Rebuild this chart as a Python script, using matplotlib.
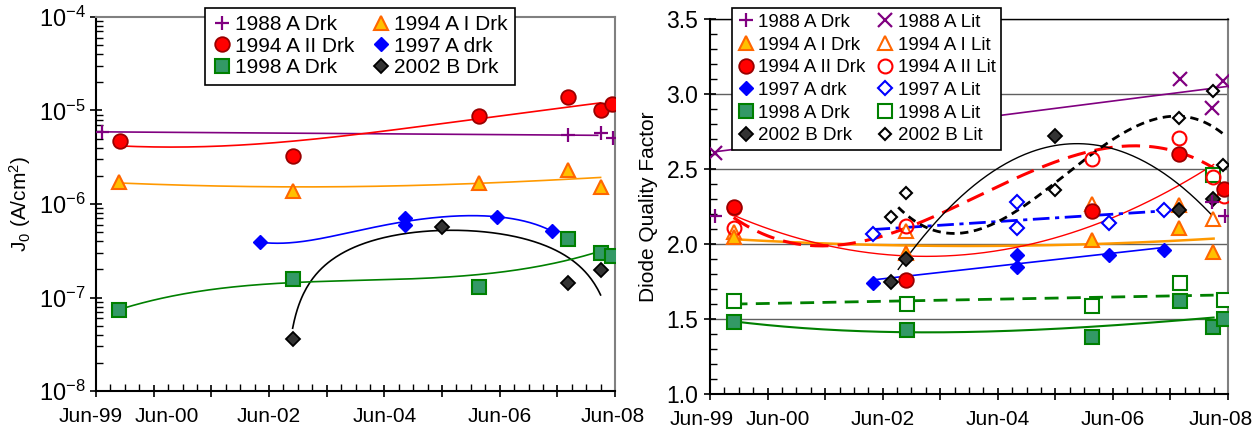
import numpy as np
import matplotlib
matplotlib.use("Agg")
import matplotlib.pyplot as plt
import matplotlib.transforms as mtransforms
from matplotlib.ticker import MultipleLocator, FixedLocator, LogLocator, NullFormatter, FormatStrFormatter

plt.rcParams['font.family'] = ['Liberation Sans', 'DejaVu Sans']
plt.rcParams['mathtext.fontset'] = 'custom'
plt.rcParams['mathtext.rm'] = 'Liberation Sans'
plt.rcParams['mathtext.it'] = 'Liberation Sans:italic'

# x values are years after June 1999
date_ticks = [0, 1, 2, 3, 4, 5, 6, 7, 8, 9]
date_labels = ['Jun-99', 'Jun-00', '', 'Jun-02', '', 'Jun-04', '', 'Jun-06', '', 'Jun-08']

# ---- left panel: J0 (A/cm2) ----
j88_x = [0.10, 8.19, 8.75, 8.96]
j88_y = [5.9e-6, 5.5e-6, 5.7e-6, 5.1e-6]
j94i_x = [0.40, 3.41, 6.65, 8.18, 8.75]
j94i_y = [1.73e-6, 1.39e-6, 1.67e-6, 2.31e-6, 1.53e-6]
j94ii_x = [0.42, 3.41, 6.65, 8.18, 8.75, 8.95]
j94ii_y = [4.7e-6, 3.3e-6, 8.8e-6, 1.38e-5, 1.02e-5, 1.17e-5]
j97_x = [2.84, 5.35, 5.35, 6.96, 7.91]
j97_y = [3.9e-7, 7.0e-7, 5.96e-7, 7.3e-7, 5.1e-7]
j98_x = [0.40, 3.41, 6.65, 8.18, 8.75, 8.95]
j98_y = [7.3e-8, 1.57e-7, 1.3e-7, 4.2e-7, 2.96e-7, 2.77e-7]
j02_x = [3.41, 6.00, 8.18, 8.75]
j02_y = [3.56e-8, 5.7e-7, 1.44e-7, 1.96e-7]

# ---- right panel: diode quality factor ----
n88d_x = [0.09, 8.73, 8.94]
n88d_y = [2.19, 2.28, 2.19]
n88l_x = [0.09, 8.16, 8.73, 8.92]
n88l_y = [2.61, 3.10, 2.91, 3.09]
n94id_x = [0.41, 3.41, 6.64, 8.15, 8.74]
n94id_y = [2.05, 1.94, 2.03, 2.11, 1.95]
n94il_x = [0.41, 3.41, 6.64, 8.15, 8.74]
n94il_y = [2.08, 2.09, 2.27, 2.26, 2.17]
n94iid_x = [0.41, 3.41, 6.64, 8.15, 8.93]
n94iid_y = [2.25, 1.76, 2.22, 2.60, 2.37]
n94iil_x = [0.41, 0.41, 3.41, 6.64, 8.15, 8.74, 8.93]
n94iil_y = [2.24, 2.11, 2.12, 2.57, 2.71, 2.45, 2.32]
n97d_x = [2.84, 5.34, 5.34, 6.93, 7.89]
n97d_y = [1.74, 1.85, 1.93, 1.93, 1.96]
n97l_x = [2.84, 5.34, 5.34, 6.93, 7.89]
n97l_y = [2.07, 2.28, 2.11, 2.14, 2.23]
n98d_x = [0.42, 3.43, 6.64, 8.16, 8.74, 8.93]
n98d_y = [1.48, 1.43, 1.38, 1.62, 1.45, 1.50]
n98l_x = [0.42, 3.43, 6.64, 8.16, 8.74, 8.93]
n98l_y = [1.62, 1.60, 1.59, 1.74, 2.46, 1.63]
n02d_x = [3.14, 3.41, 6.00, 8.15, 8.74]
n02d_y = [1.75, 1.90, 2.72, 2.23, 2.30]
n02l_x = [3.14, 3.41, 6.00, 8.15, 8.74, 8.92]
n02l_y = [2.18, 2.34, 2.36, 2.84, 3.02, 2.53]

# points used by the trendlines (the rest sit outside the fitted run)
n94iil_fit = [0, 1, 2, 3, 4, 5]
n98l_fit = [0, 1, 2, 3, 5]

PURPLE = '#800080'
ORANGE = '#FF6600'
GOLD = '#FFC000'
RED = '#FF0000'
DKRED = '#990000'
BLUE = '#0000FF'
GREEN = '#008000'
SEA = '#339966'
BLACK = '#000000'
GRAY = '#808080'

styles = {
    '88d': dict(marker='+', color=PURPLE, ms=10, mew=1.6),
    '88l': dict(marker='x', color=PURPLE, ms=10, mew=1.6),
    '94id': dict(marker='^', mfc=GOLD, mec=ORANGE, ms=10, mew=1.5),
    '94il': dict(marker='^', mfc='white', mec=ORANGE, ms=10, mew=1.5),
    '94iid': dict(marker='o', mfc=RED, mec=DKRED, ms=10.5, mew=1.3),
    '94iil': dict(marker='o', mfc='none', mec=RED, ms=10, mew=1.5),
    '97d': dict(marker='D', mfc=BLUE, mec=BLUE, ms=7.5, mew=1),
    '97l': dict(marker='D', mfc='white', mec=BLUE, ms=7.5, mew=1.5),
    '98d': dict(marker='s', mfc=SEA, mec=GREEN, ms=10, mew=1.5),
    '98l': dict(marker='s', mfc='white', mec=GREEN, ms=10, mew=1.5),
    '02d': dict(marker='D', mfc='#333333', mec=BLACK, ms=7, mew=1.3),
    '02l': dict(marker='D', mfc='white', mec=BLACK, ms=5.8, mew=1.5),
}


def trend(ax, x, y, deg, x0, x1, log=False, **kw):
    # polynomial trendline fitted to the series
    x = np.array(x)
    y = np.array(y)
    xs = np.linspace(x0, x1, 200)
    if log:
        coef = np.polyfit(x, np.log10(y), deg)
        ys = 10 ** np.polyval(coef, xs)
    else:
        coef = np.polyfit(x, y, deg)
        ys = np.polyval(coef, xs)
    ax.plot(xs, ys, zorder=2, **kw)


def setup_date_axis(ax):
    ax.set_xlim(0, 9)
    ax.xaxis.set_major_locator(FixedLocator(date_ticks))
    ax.xaxis.set_minor_locator(MultipleLocator(0.25))
    ax.set_xticklabels(date_labels, fontsize=15)
    ax.tick_params(which='major', direction='inout', length=9, width=1.2)
    ax.tick_params(axis='x', which='major', pad=7)
    ax.tick_params(which='minor', direction='in', length=5, width=1)


def shift_labels(ax, fig, shifts):
    for lab, dx in zip(ax.get_xticklabels(), shifts):
        off = mtransforms.ScaledTranslation(dx / 100, 0, fig.dpi_scale_trans)
        lab.set_transform(lab.get_transform() + off)


fig = plt.figure(figsize=(12.56, 4.28), dpi=100)

# ================= left panel =================
ax1 = fig.add_axes([96 / 1256, 1 - 391 / 428, 519 / 1256, 374 / 428])
ax1.set_yscale('log')
ax1.set_ylim(1e-8, 1e-4)

trend(ax1, j88_x, j88_y, 1, 0.10, 8.70, color=PURPLE, lw=1.2)
trend(ax1, j94ii_x, j94ii_y, 2, 0.42, 8.75, color=RED, lw=1.2)
trend(ax1, j94i_x, j94i_y, 2, 0.40, 8.75, color='#FF9900', lw=1.2)
trend(ax1, j97_x, j97_y, 3, 2.84, 7.91, color=BLUE, lw=1.2)
trend(ax1, j02_x, j02_y, 2, 3.41, 8.75, color=BLACK, lw=1.2)
trend(ax1, j98_x, j98_y, 3, 0.30, 8.75, log=True, color=GREEN, lw=1.2)

h88 = ax1.plot(j88_x, j88_y, ls='none', label='1988 A Drk', zorder=4, **styles['88d'])[0]
h94ii = ax1.plot(j94ii_x, j94ii_y, ls='none', label='1994 A II Drk', zorder=4, **styles['94iid'])[0]
h98 = ax1.plot(j98_x, j98_y, ls='none', label='1998 A Drk', zorder=4, **styles['98d'])[0]
h94i = ax1.plot(j94i_x, j94i_y, ls='none', label='1994 A I Drk', zorder=4, **styles['94id'])[0]
h97 = ax1.plot(j97_x, j97_y, ls='none', label='1997 A drk', zorder=4, **styles['97d'])[0]
h02 = ax1.plot(j02_x, j02_y, ls='none', label='2002 B Drk', zorder=4, **styles['02d'])[0]

ax1.yaxis.set_minor_locator(LogLocator(base=10, subs=np.arange(2, 10), numticks=20))
ax1.yaxis.set_minor_formatter(NullFormatter())
ax1.set_yticks([1e-8, 1e-7, 1e-6, 1e-5, 1e-4])
ax1.set_yticklabels([r'$\mathregular{10^{-8}}$', r'$\mathregular{10^{-7}}$',
                     r'$\mathregular{10^{-6}}$', r'$\mathregular{10^{-5}}$',
                     r'$\mathregular{10^{-4}}$'], fontsize=17)
setup_date_axis(ax1)
ax1.tick_params(axis='y', which='major', pad=3)
ax1.set_ylabel(r'J$_0$ (A/cm$^2$)', fontsize=15, labelpad=4)

for s in ['top', 'right']:
    ax1.spines[s].set_color(GRAY)
    ax1.spines[s].set_linewidth(1.5)
for s in ['left', 'bottom']:
    ax1.spines[s].set_linewidth(1.5)

leg1 = ax1.legend(handles=[h88, h94ii, h98, h94i, h97, h02], ncol=2,
                  loc='upper left', bbox_to_anchor=(205 / 1256, 1 - 8 / 428),
                  bbox_transform=fig.transFigure, borderaxespad=0,
                  fontsize=15, frameon=True, fancybox=False, framealpha=1,
                  edgecolor=BLACK, handlelength=0.9, handletextpad=0.2,
                  columnspacing=0.8, labelspacing=0.12, borderpad=0.35)
leg1.get_frame().set_linewidth(1.2)
leg1.set_zorder(10)

# ================= right panel =================
ax2 = fig.add_axes([710 / 1256, 1 - 394 / 428, 518 / 1256, 375 / 428])
ax2.set_ylim(1.0, 3.5)
ax2.yaxis.set_major_locator(MultipleLocator(0.5))
ax2.yaxis.set_minor_locator(MultipleLocator(0.1))
ax2.yaxis.set_major_formatter(FormatStrFormatter('%.1f'))
ax2.yaxis.grid(True, which='major', color='#606060', lw=1)
ax2.set_axisbelow(True)

trend(ax2, n88l_x, n88l_y, 1, 0.09, 9.0, color=PURPLE, lw=1.2)
trend(ax2, n94id_x, n94id_y, 2, 0.41, 8.75, color='#FF9900', lw=1.8)
trend(ax2, n94iid_x, n94iid_y, 2, 0.41, 8.75, color=RED, lw=1.0)
trend(ax2, np.array(n94iil_x)[n94iil_fit], np.array(n94iil_y)[n94iil_fit], 3, 0.41, 8.75,
      color=RED, lw=2.2, ls=(0, (6, 3)))
trend(ax2, n97d_x, n97d_y, 1, 2.84, 7.89, color=BLUE, lw=1.2)
trend(ax2, n97l_x, n97l_y, 1, 2.84, 7.89, color=BLUE, lw=2.0, ls=(0, (6, 2, 1.5, 2)))
trend(ax2, n98d_x, n98d_y, 3, 0.41, 8.75, color=GREEN, lw=1.5)
trend(ax2, np.array(n98l_x)[n98l_fit], np.array(n98l_y)[n98l_fit], 1, 0.41, 8.75,
      color=GREEN, lw=2.0, ls=(0, (5, 3)))
trend(ax2, n02d_x, n02d_y, 2, 3.27, 8.75, color=BLACK, lw=1.0)
trend(ax2, n02l_x, n02l_y, 3, 3.27, 8.92, color=BLACK, lw=2.0, ls=(0, (3, 2)))

drk = [
    ax2.plot(n88d_x, n88d_y, ls='none', label='1988 A Drk', zorder=5, **styles['88d'])[0],
    ax2.plot(n94id_x, n94id_y, ls='none', label='1994 A I Drk', zorder=4, **styles['94id'])[0],
    ax2.plot(n94iid_x, n94iid_y, ls='none', label='1994 A II Drk', zorder=4, **styles['94iid'])[0],
    ax2.plot(n97d_x, n97d_y, ls='none', label='1997 A drk', zorder=4, **styles['97d'])[0],
    ax2.plot(n98d_x, n98d_y, ls='none', label='1998 A Drk', zorder=4, **styles['98d'])[0],
    ax2.plot(n02d_x, n02d_y, ls='none', label='2002 B Drk', zorder=4, **styles['02d'])[0],
]
lit = [
    ax2.plot(n88l_x, n88l_y, ls='none', label='1988 A Lit', zorder=4, **styles['88l'])[0],
    ax2.plot(n94il_x, n94il_y, ls='none', label='1994 A I Lit', zorder=3, **styles['94il'])[0],
    ax2.plot(n94iil_x, n94iil_y, ls='none', label='1994 A II Lit', zorder=3.5, **styles['94iil'])[0],
    ax2.plot(n97l_x, n97l_y, ls='none', label='1997 A Lit', zorder=4, **styles['97l'])[0],
    ax2.plot(n98l_x, n98l_y, ls='none', label='1998 A Lit', zorder=3, **styles['98l'])[0],
    ax2.plot(n02l_x, n02l_y, ls='none', label='2002 B Lit', zorder=4, **styles['02l'])[0],
]

setup_date_axis(ax2)
ax2.tick_params(axis='y', which='major', labelsize=16.5, pad=4)
ax2.set_ylabel('Diode Quality Factor', fontsize=15, labelpad=6)

ax2.spines['right'].set_color(GRAY)
ax2.spines['right'].set_linewidth(1.5)
for s in ['left', 'bottom']:
    ax2.spines[s].set_linewidth(1.5)
ax2.spines['top'].set_linewidth(1.0)

leg2 = ax2.legend(handles=drk + lit, ncol=2, loc='upper left',
                  bbox_to_anchor=(732 / 1256, 1 - 8 / 428),
                  bbox_transform=fig.transFigure, borderaxespad=0,
                  fontsize=13.5, frameon=True, fancybox=False, framealpha=1,
                  edgecolor=BLACK, handlelength=0.9, handletextpad=0.2,
                  columnspacing=0.6, labelspacing=0.3, borderpad=0.3)
leg2.get_frame().set_linewidth(1.2)
leg2.set_zorder(10)

# move a few date labels sideways like the original
shift_labels(ax1, fig, [-5, 13, 0, 0, 0, 0, 0, 0, 0, -2])
shift_labels(ax2, fig, [-8, 10, 0, 0, 0, 0, 0, 0, 0, -7])

fig.savefig('out.png', dpi=100)
